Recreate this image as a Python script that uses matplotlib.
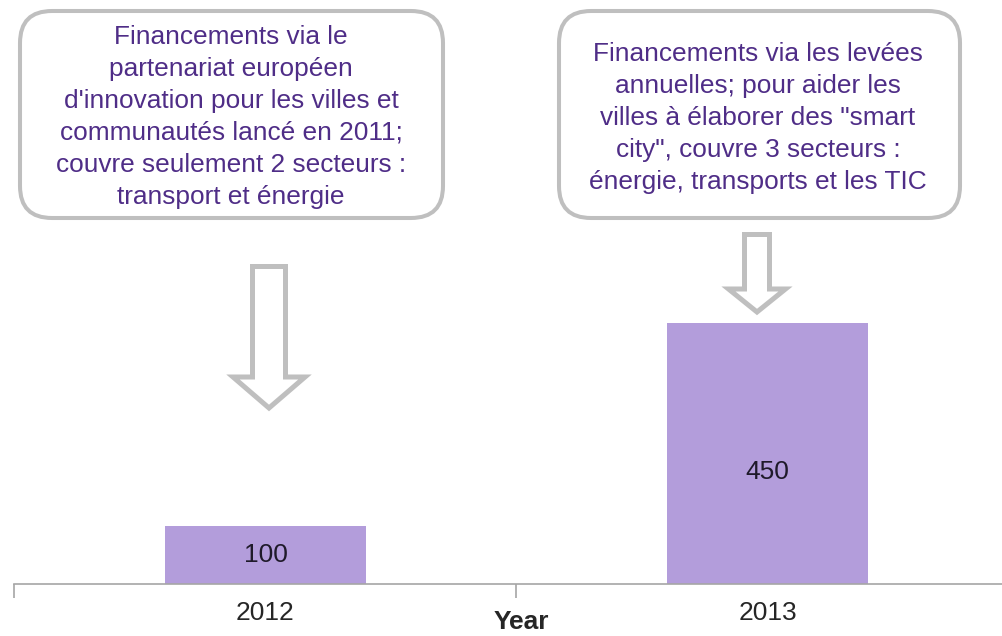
import matplotlib
matplotlib.use('Agg')
import matplotlib.pyplot as plt
from matplotlib.patches import FancyBboxPatch, Polygon

# données
years = ['2012', '2013']
funding = [100, 450]
notes = [
    "Financements via le\npartenariat européen\nd'innovation pour les villes et\n"
    "communautés lancé en 2011;\ncouvre seulement 2 secteurs :\ntransport et énergie",
    "Financements via les levées\nannuelles; pour aider les\nvilles à élaborer des \"smart\n"
    "city\", couvre 3 secteurs :\nénergie, transports et les TIC",
]

plt.rcParams['font.family'] = ['Liberation Sans', 'DejaVu Sans']

W, H = 1003, 636
fig = plt.figure(figsize=(W / 100, H / 100), dpi=100)

bar_color = '#b39ddb'
text_purple = '#4f2d87'
grey = '#bfbfbf'

# axe principal (barres)
ax = fig.add_axes([14.5 / W, 52 / H, 1004 / W, 580 / H])
x = range(len(years))
bars = ax.bar(x, funding, width=0.4, color=bar_color, zorder=2)
ax.set_xlim(-0.5, 1.5)
ax.set_ylim(0, 1000)
for xi, v in zip(x, funding):
    ax.text(xi, min(v / 2, 193), str(v), ha='center', va='center',
            fontsize=19, color='#1f1a2a')

for s in ['top', 'right', 'left']:
    ax.spines[s].set_visible(False)
ax.spines['bottom'].set_color('#a6a6a6')
ax.spines['bottom'].set_linewidth(1.2)
ax.set_yticks([])
ax.set_xticks(x)
ax.set_xticklabels(years, fontsize=19, color='#262626')
ax.set_xticks([-0.5, 0.5, 1.5], minor=True)
ax.tick_params(axis='x', which='major', length=0, pad=12)
ax.tick_params(axis='x', which='minor', length=10, width=1.2, color='#a6a6a6')
ax.set_xlabel('Year', fontsize=19, fontweight='bold', color='#262626')
ax.xaxis.set_label_coords(0.5045, -0.045)
ax.patch.set_alpha(0)

# calque en pixels pour les encadrés et flèches
ov = fig.add_axes([0, 0, 1, 1], zorder=3)
ov.set_xlim(0, W)
ov.set_ylim(H, 0)
ov.axis('off')
ov.patch.set_alpha(0)

boxes = [(20, 11, 423, 207), (559, 11, 401, 207)]
text_centers = [(231, 117), (758, 118)]
for (bx, by, bw, bh), (tx, ty), note in zip(boxes, text_centers, notes):
    ov.add_patch(FancyBboxPatch((bx, by), bw, bh,
                                boxstyle='round,pad=0,rounding_size=32',
                                fc='white', ec=grey, lw=2.9))
    ov.text(tx, ty, note, ha='center', va='center', fontsize=18.9,
            color=text_purple, linespacing=1.42)


def down_arrow(cx, top, head_y, tip, shaft_hw, head_hw):
    pts = [(cx - shaft_hw, top), (cx + shaft_hw, top), (cx + shaft_hw, head_y),
           (cx + head_hw, head_y), (cx, tip), (cx - head_hw, head_y),
           (cx - shaft_hw, head_y)]
    ov.add_patch(Polygon(pts, closed=True, fc='white', ec=grey, lw=3.6,
                         joinstyle='miter'))


down_arrow(269, 266.5, 377, 408, 16.5, 36)
down_arrow(757, 234.5, 289, 312, 12.5, 28.5)

fig.savefig('out.png', dpi=100)
